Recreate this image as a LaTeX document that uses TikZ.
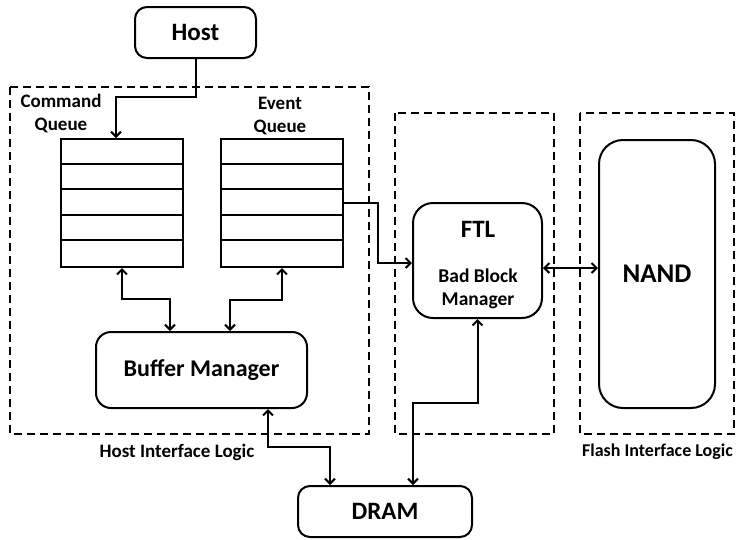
\documentclass[tikz,border=0pt]{standalone}
\usepackage{fontspec}
\setmainfont{Carlito}
\usetikzlibrary{arrows.meta,calc}
\begin{document}
\begin{tikzpicture}[x=1pt,y=-1pt,
  line width=2pt,
  >={Straight Barb[length=5pt,width=10pt]},
  rbox/.style={draw,rounded corners=12pt,inner sep=0pt,font=\bfseries},
  qbox/.style={draw,inner sep=0pt,minimum width=122pt,minimum height=128pt},
  region/.style={draw,dash pattern=on 8pt off 5pt,line width=1.8pt},
  lbl/.style={font=\bfseries\fontsize{19}{23}\selectfont,align=center,inner sep=0pt}
]
\useasboundingbox (0,0) rectangle (742,539);
% dashed regions
\draw[region] (10,87) rectangle (369,434);
\draw[region] (395,113) rectangle (554,434);
\draw[region] (580,113) rectangle (734,434);
% nodes
\node[rbox,minimum width=121pt,minimum height=51pt,font=\bfseries\fontsize{25}{28}\selectfont] (host) at (195.5,32.5) {Host};
\node[qbox] (cq) at (122,203) {};
\node[qbox] (eq) at (282,203) {};
\foreach \q in {cq,eq}{
  \foreach \i in {1,2,3,4}{
    \draw ($(\q.north west)+(0,25.6*\i)$) -- ($(\q.north east)+(0,25.6*\i)$);
  }
}
\node[lbl] (cql) at (61,114) {Command\\Queue};
\node[lbl] (eql) at (280,116.5) {Event\\Queue};
\node[rbox,rounded corners=15pt,minimum width=211pt,minimum height=76pt,font=\bfseries\fontsize{24}{28}\selectfont] (bm) at (201.5,370) {Buffer Manager};
\node[rbox,minimum width=174pt,minimum height=51pt,font=\bfseries\fontsize{25}{28}\selectfont] (dram) at (385,511.5) {DRAM};
\node[rbox,rounded corners=20pt,minimum width=129pt,minimum height=115pt] (ftl) at (477.5,260.5) {};
\node[font=\bfseries\fontsize{25}{28}\selectfont,inner sep=0pt] (ftlt) at (478,229) {FTL};
\node[font=\bfseries\fontsize{19.5}{23}\selectfont,align=center,inner sep=0pt] (bbm) at (478,289) {Bad Block\\Manager};
\node[rbox,rounded corners=24pt,minimum width=116pt,minimum height=268pt,font=\bfseries\fontsize{27}{30}\selectfont] (nand) at (657,274) {NAND};
\node[lbl] (hil) at (177,452) {Host Interface Logic};
\node[lbl,font=\bfseries\fontsize{18}{23}\selectfont] (fil) at (657.5,452) {Flash Interface Logic};
% connectors
\draw[->] (host.south) -- (195.5,97) -| ([xshift=-6pt]cq.north);
\draw[<->] (cq.south) -- (122,299) -| ([xshift=-31.5pt]bm.north);
\draw[<->] (eq.south) -- (282,300) -| ([xshift=28.5pt]bm.north);
\draw[<->] ([xshift=66.5pt]bm.south) -- (268,447) -| ([xshift=-55pt]dram.north);
\draw[<->] (ftl.south) -- (477.5,403) -| ([xshift=28pt]dram.north);
\coordinate (eo) at (eq.east);
\coordinate (fi) at ($(ftl.west)+(0,2.5)$);
\draw[->] (eo) -- (378,203) |- (fi);
\coordinate (fn) at ($(ftl.east)+(0,7.5)$);
\draw[<->] (fn) -- (fn -| nand.west);
\end{tikzpicture}
\end{document}
